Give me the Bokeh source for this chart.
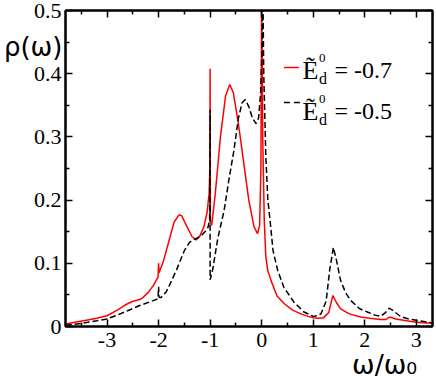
from bokeh.plotting import figure
from bokeh.models import Range1d, FixedTicker, LinearAxis, Label
from bokeh.embed import file_html
from bokeh.resources import INLINE

# ---------------- data ----------------
omega_red = [-3.8, -3.6, -3.4, -3.2, -3.0, -2.8, -2.65, -2.5, -2.4, -2.33, -2.2, -2.1, -2.01,
             -2.0, -1.99, -1.9, -1.8, -1.7, -1.6, -1.55, -1.45, -1.35, -1.27, -1.2, -1.12,
             -1.06, -1.02, -1.005, -1.0, -0.995, -0.97, -0.9, -0.8, -0.7, -0.62, -0.55, -0.45,
             -0.35, -0.25, -0.15, -0.08, -0.04, -0.015, 0.0, 0.02, 0.05, 0.08, 0.12, 0.18,
             0.3, 0.44, 0.6, 0.76, 0.9, 1.0, 1.1, 1.2, 1.3, 1.38, 1.45, 1.53, 1.7, 1.92,
             2.1, 2.3, 2.4, 2.48, 2.6, 2.9, 3.1, 3.35]
rho_red = [0.004, 0.007, 0.010, 0.013, 0.017, 0.026, 0.034, 0.040, 0.042, 0.044, 0.054, 0.065, 0.078,
           0.100, 0.085, 0.105, 0.135, 0.165, 0.177, 0.175, 0.158, 0.142, 0.137, 0.143, 0.158,
           0.180, 0.210, 0.250, 0.408, 0.165, 0.160, 0.210, 0.300, 0.365, 0.383, 0.370, 0.320,
           0.260, 0.200, 0.158, 0.147, 0.160, 0.250, 0.560, 0.300, 0.168, 0.110, 0.088, 0.073,
           0.048, 0.036, 0.026, 0.020, 0.016, 0.014, 0.013, 0.014, 0.022, 0.049, 0.038, 0.028, 0.020, 0.015,
           0.013, 0.011, 0.011, 0.015, 0.012, 0.008, 0.006, 0.005]

omega_black = [-3.8, -3.5, -3.2, -3.0, -2.8, -2.6, -2.4, -2.27, -2.1, -2.01, -2.0, -1.99, -1.95,
               -1.85, -1.75, -1.65, -1.5, -1.4, -1.33, -1.25, -1.17, -1.1, -1.04, -1.01, -1.0,
               -1.0, -0.95, -0.85, -0.73, -0.64, -0.54, -0.45, -0.38, -0.32, -0.25, -0.18, -0.11,
               -0.06, -0.02, 0.01, 0.02, 0.04, 0.08, 0.12, 0.16, 0.22, 0.31, 0.43, 0.63, 0.82,
               1.0, 1.07, 1.15, 1.25, 1.32, 1.39, 1.45, 1.53, 1.63, 1.73, 1.9, 2.05, 2.2, 2.31,
               2.4, 2.47, 2.55, 2.69, 2.85, 3.0, 3.2, 3.35]
rho_black = [0.002, 0.005, 0.009, 0.012, 0.018, 0.025, 0.032, 0.036, 0.041, 0.044, 0.063, 0.046, 0.046,
             0.055, 0.072, 0.090, 0.120, 0.133, 0.137, 0.140, 0.144, 0.150, 0.157, 0.170, 0.343,
             0.074, 0.090, 0.140, 0.183, 0.230, 0.278, 0.330, 0.354, 0.359, 0.348, 0.330, 0.321,
             0.330, 0.370, 0.450, 0.560, 0.400, 0.270, 0.200, 0.170, 0.120, 0.089, 0.062, 0.038, 0.023,
             0.016, 0.017, 0.020, 0.040, 0.090, 0.125, 0.105, 0.073, 0.053, 0.041, 0.028, 0.023, 0.018, 0.016,
             0.022, 0.029, 0.025, 0.016, 0.012, 0.010, 0.007, 0.005]

x_ticks = [-3, -2, -1, 0, 1, 2, 3]
x_tick_labels = ["-3", "-2", "-1", "0", "1", "2", "3"]
x_minor_ticks = [-3.5, -2.5, -1.5, -0.5, 0.5, 1.5, 2.5]
y_ticks = [0.0, 0.1, 0.2, 0.3, 0.4, 0.5]
y_tick_labels = ["0", "0.1", "0.2", "0.3", "0.4", "0.5"]
y_minor_ticks = [0.05, 0.15, 0.25, 0.35, 0.45]
legend_values = ["-0.7", "-0.5"]
x_title = "\u03c9/\u03c9\u2080"
y_title = "\u03c1(\u03c9)"

X0, X1 = -3.805, 3.313
Y0, Y1 = 0.0, 0.5
W, H = 436, 388
FL, FT, FR, FB = 64, 10, 432, 326   # frame edges in page pixels

def px2x(px):
    return X0 + (px - FL) / (FR - FL) * (X1 - X0)

def px2y(py):
    return Y0 + (FB - py) / (FB - FT) * (Y1 - Y0)

p = figure(width=W, height=H, output_backend="svg", toolbar_location=None,
           x_range=Range1d(X0, X1), y_range=Range1d(Y0, Y1),
           x_axis_location=None, y_axis_location=None,
           min_border_left=FL, min_border_right=W - FR, min_border_top=FT, min_border_bottom=H - FB)
p.background_fill_color = "white"
p.border_fill_color = "white"
p.outline_line_color = "black"
p.outline_line_width = 2
for g in p.grid:
    g.visible = False

SERIF = "'Liberation Serif', 'Times New Roman', serif"
SANS = "'DejaVu Sans', sans-serif"

def make_axis(major, minor, labels, standoff, size="22px"):
    ax = LinearAxis(ticker=FixedTicker(ticks=major, minor_ticks=minor))
    ax.major_label_overrides = {t: l for t, l in zip(major, labels)}
    ax.axis_line_color = "black"
    ax.axis_line_width = 2
    ax.major_tick_in = 7
    ax.major_tick_out = 0
    ax.minor_tick_in = 4
    ax.minor_tick_out = 0
    ax.major_tick_line_width = 1.5
    ax.minor_tick_line_width = 1.5
    ax.major_label_text_font = SERIF
    ax.major_label_text_color = "black"
    ax.major_label_text_font_size = size
    ax.major_label_standoff = standoff
    return ax

def title_axis(pos, text, standoff, size):
    ax = LinearAxis(ticker=FixedTicker(ticks=[pos], minor_ticks=[]))
    ax.major_label_overrides = {pos: text}
    ax.axis_line_color = None
    ax.major_tick_line_color = None
    ax.minor_tick_line_color = None
    ax.major_tick_in = 0
    ax.major_tick_out = 0
    ax.minor_tick_in = 0
    ax.minor_tick_out = 0
    ax.major_label_text_font = SANS
    ax.major_label_text_font_size = size
    ax.major_label_text_color = "black"
    ax.major_label_standoff = standoff
    return ax

p.add_layout(make_axis(x_ticks, x_minor_ticks, x_tick_labels, 6), "below")
p.add_layout(title_axis(px2x(384), x_title, -1, "27px"), "below")
p.add_layout(make_axis(y_ticks, y_minor_ticks, y_tick_labels, 4), "left")
p.add_layout(title_axis(px2y(46), y_title, -32, "26px"), "left")
p.add_layout(make_axis(x_ticks, x_minor_ticks, [""] * len(x_ticks), 0, "1px"), "above")
p.add_layout(make_axis(y_ticks, y_minor_ticks, [""] * len(y_ticks), 0, "1px"), "right")

p.line(omega_red, rho_red, line_color="#ff0000", line_width=1.5)
p.line(omega_black, rho_black, line_color="black", line_width=1.5, line_dash="6 3")

# legend samples
p.line([px2x(283), px2x(298)], [px2y(67), px2y(67)], line_color="#ff0000", line_width=1.5)
p.line([px2x(283), px2x(300)], [px2y(102), px2y(102)], line_color="black", line_width=1.5,
       line_dash="6 4")

def lab(text, px, py, size, font=SERIF):
    # screen units are measured from the frame's bottom-left corner
    p.add_layout(Label(x=px - FL, y=FB - py, x_units="screen", y_units="screen", text=text,
                       text_font=font, text_font_size=size, text_color="black",
                       text_baseline="alphabetic", text_align="left"))

for i, v in enumerate(legend_values):
    base = 69.5 + i * 41
    lab("\u1ebc", 301, base, "26px")
    lab("0", 317.5, base - 12, "13px")
    lab("d", 317.5, base + 8.5, "16px")
    lab("= " + v, 333, base, "24px")

open("out.html", "w").write(file_html(p, INLINE))
